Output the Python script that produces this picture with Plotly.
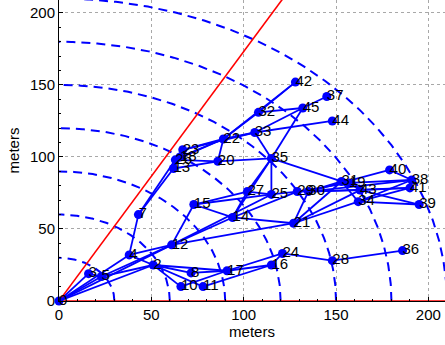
import numpy as np
import plotly.graph_objects as go

# Node ids and positions (meters)
node_ids = [0, 2, 3, 4, 5, 7, 8, 10, 11, 12, 13, 14, 15, 16, 17, 18, 19, 20, 21, 22, 23,
            24, 25, 26, 27, 28, 29, 30, 31, 32, 33, 34, 35, 36, 37, 38, 39, 40, 41, 42,
            43, 44, 45]
node_x = [0, 51, 16, 38, 23, 43, 71.5, 66, 78, 61, 62, 94, 73, 115, 91, 65.5, 157, 86, 127, 89, 67,
          121, 115, 63, 102, 148, 129, 135, 153, 108, 106, 162, 115, 186, 145, 191, 195, 179, 190, 128,
          163, 148, 132]
node_y = [0, 25, 19, 32, 17, 60, 19.5, 10, 10, 39, 92, 58, 67, 25, 21, 100, 82, 97, 54, 112.5, 105,
          33, 74, 98, 76, 28, 76, 76, 83, 131, 117, 69, 99, 35, 142, 84, 67, 91, 78.5, 152,
          77, 125, 134]

# Links (pairs of node ids)
edges_from = [0, 0, 0, 0, 0, 3, 4, 4, 4, 5, 5,
              7, 7,
              2, 2, 2, 2, 8, 10, 11, 17, 17, 16, 24, 28,
              12, 12, 12, 12,
              15, 15, 15,
              14, 14, 14, 14,
              27, 27, 25, 29, 25, 35,
              21, 21, 21, 21,
              30, 30, 30, 30, 31, 19, 31, 19, 43, 43, 34, 34, 40, 38, 41, 30, 29,
              13, 26, 13, 18, 26, 13, 23, 26, 18, 20, 22, 22, 23, 20, 22, 32, 32, 33, 45, 33, 35, 35]
edges_to = [3, 5, 4, 2, 12, 5, 7, 12, 2, 2, 12,
            13, 26,
            8, 10, 11, 17, 17, 17, 16, 16, 24, 24, 28, 36,
            15, 14, 21, 25,
            27, 25, 14,
            27, 29, 35, 21,
            25, 35, 29, 30, 35, 31,
            30, 31, 43, 34,
            31, 40, 38, 41, 19, 43, 34, 38, 41, 39, 39, 38, 38, 41, 34, 43, 19,
            26, 23, 18, 23, 20, 20, 22, 22, 22, 22, 33, 32, 33, 35, 42, 42, 45, 45, 37, 44, 33, 45]

radii = [30, 60, 90, 120, 150, 180, 210]
sector_angles_deg = [0, 60]
tick_vals = [0, 50, 100, 150, 200]

FONT = "Liberation Sans, Arial, sans-serif"

pos = {n: (x, y) for n, x, y in zip(node_ids, node_x, node_y)}

ex, ey = [], []
for a, b in zip(edges_from, edges_to):
    ex += [pos[a][0], pos[b][0], None]
    ey += [pos[a][1], pos[b][1], None]

fig = go.Figure()

# dashed range circles
th = np.linspace(0, np.pi / 2, 300)
cx, cy = [], []
for r in radii:
    cx += list(r * np.cos(th)) + [None]
    cy += list(r * np.sin(th)) + [None]
fig.add_trace(go.Scatter(x=cx, y=cy, mode="lines",
                         line=dict(color="#0000ff", width=2, dash="9px,6px"),
                         hoverinfo="skip"))

# links
fig.add_trace(go.Scatter(x=ex, y=ey, mode="lines",
                         line=dict(color="#0000ff", width=1.8), hoverinfo="skip"))

# sector boundaries
sx, sy = [], []
for a in sector_angles_deg:
    t = np.deg2rad(a)
    sx += [0, 300 * np.cos(t), None]
    sy += [0, 300 * np.sin(t), None]
fig.add_trace(go.Scatter(x=sx, y=sy, mode="lines",
                         line=dict(color="#ff0000", width=1.6), hoverinfo="skip"))

# nodes
fig.add_trace(go.Scatter(x=node_x, y=node_y, mode="markers",
                         marker=dict(color="#0000ff", size=9),
                         cliponaxis=False, hoverinfo="skip"))
# node labels
fig.add_trace(go.Scatter(x=node_x, y=node_y, mode="text",
                         text=[str(n) for n in node_ids],
                         textposition="middle right",
                         textfont=dict(size=15, color="black", family=FONT),
                         cliponaxis=False, hoverinfo="skip"))

axis_common = dict(
    range=[0, 209], tickvals=tick_vals, showgrid=True, gridcolor="#a8a8a8",
    griddash="dot", gridwidth=1, zeroline=False, showline=True, linecolor="black",
    linewidth=1, ticks="inside", ticklen=4, tickcolor="black", automargin=False,
    tickfont=dict(size=15, color="black", family=FONT),
    minor=dict(ticks="inside", ticklen=2, dtick=10, tickcolor="black", showgrid=False),
)

fig.update_layout(
    width=445, height=345,
    margin=dict(l=59, r=0, t=0, b=44, autoexpand=False),
    plot_bgcolor="white", paper_bgcolor="white",
    showlegend=False,
    xaxis=dict(**axis_common,
               title=dict(text="meters", standoff=0,
                          font=dict(size=15, color="black", family=FONT))),
    yaxis=dict(**axis_common,
               title=dict(text="meters", standoff=6,
                          font=dict(size=15, color="black", family=FONT))),
)

fig.write_html("out.html",
               config={"displayModeBar": False},
               post_script="document.body.style.margin='0';"
                           "document.body.style.overflow='hidden';")
